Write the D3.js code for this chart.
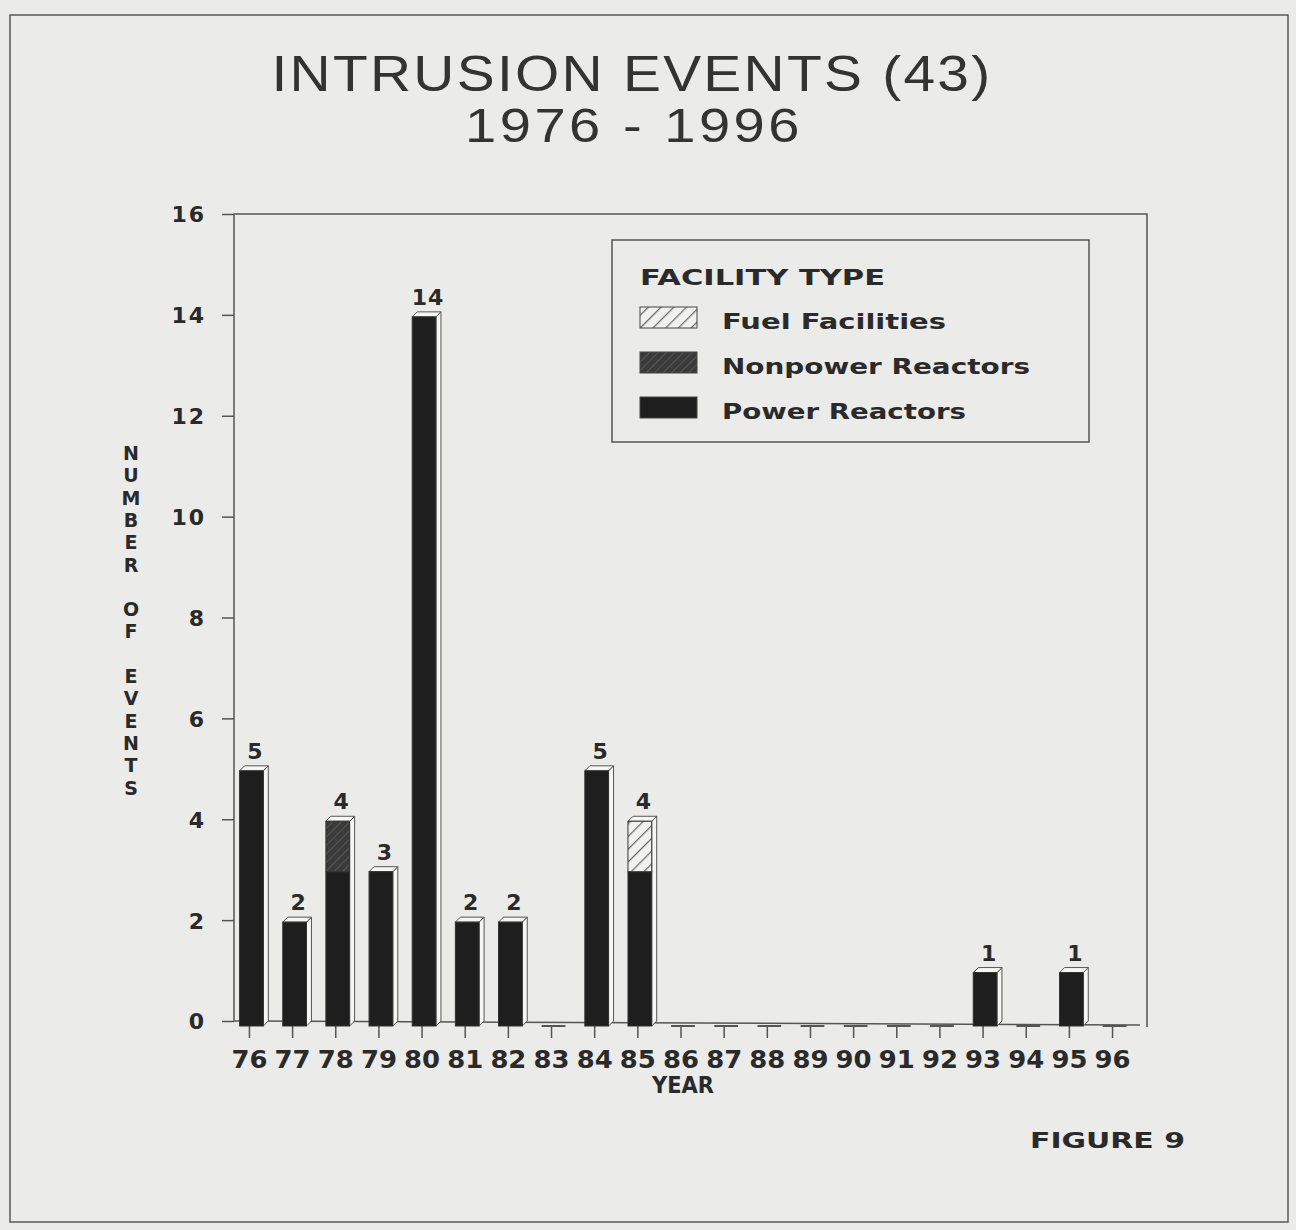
<!DOCTYPE html>
<html lang="en">
<head>
    <meta charset="utf-8">
    <title>Intrusion Events 1976 - 1996</title>
    <script src="https://cdn.jsdelivr.net/npm/d3@7"></script>
    <style>
        body { margin: 0; background: #ebebe9; }
        svg { display: block; }
        .bold { font-family: "DejaVu Sans", sans-serif; font-weight: bold; fill: #2a2a2a; }
    </style>
</head>
<body>
<script>
    // chart values
    var years = ["76", "77", "78", "79", "80", "81", "82", "83", "84", "85", "86",
                 "87", "88", "89", "90", "91", "92", "93", "94", "95", "96"];
    var power    = [5, 2, 3, 3, 14, 2, 2, 0, 5, 3, 0, 0, 0, 0, 0, 0, 0, 1, 0, 1, 0];
    var nonpower = [0, 0, 1, 0, 0, 0, 0, 0, 0, 0, 0, 0, 0, 0, 0, 0, 0, 0, 0, 0, 0];
    var fuel     = [0, 0, 0, 0, 0, 0, 0, 0, 0, 1, 0, 0, 0, 0, 0, 0, 0, 0, 0, 0, 0];
    var yTicks = [0, 2, 4, 6, 8, 10, 12, 14, 16];
    var seriesNames = ["Fuel Facilities", "Nonpower Reactors", "Power Reactors"];

    var width = 1296, height = 1230;
    var depth = 5;

    var svg = d3.select("body").append("svg")
        .attr("width", width)
        .attr("height", height);

    // hatch patterns
    var defs = svg.append("defs");
    var fuelPat = defs.append("pattern")
        .attr("id", "fuel")
        .attr("patternUnits", "userSpaceOnUse")
        .attr("width", 9).attr("height", 9)
        .attr("patternTransform", "rotate(45)");
    fuelPat.append("rect").attr("width", 9).attr("height", 9).attr("fill", "#f1f1ef");
    fuelPat.append("line").attr("x1", 0).attr("y1", 0).attr("x2", 0).attr("y2", 9)
        .attr("stroke", "#6a6a6a").attr("stroke-width", 2.5);

    var npPat = defs.append("pattern")
        .attr("id", "nonpower")
        .attr("patternUnits", "userSpaceOnUse")
        .attr("width", 6).attr("height", 6)
        .attr("patternTransform", "rotate(45)");
    npPat.append("rect").attr("width", 6).attr("height", 6).attr("fill", "#3a3a3a");
    npPat.append("line").attr("x1", 0).attr("y1", 0).attr("x2", 0).attr("y2", 6)
        .attr("stroke", "#575757").attr("stroke-width", 2);

    var fills = { "Power Reactors": "#1e1e1e", "Nonpower Reactors": "url(#nonpower)", "Fuel Facilities": "url(#fuel)" };

    // page border
    svg.append("rect")
        .attr("x", 10).attr("y", 15)
        .attr("width", 1278).attr("height", 1207)
        .attr("fill", "none")
        .attr("stroke", "#5a5a5a")
        .attr("stroke-width", 1.5);

    // title
    svg.append("text")
        .attr("x", 632).attr("y", 91)
        .attr("text-anchor", "middle")
        .attr("font-family", "Liberation Sans, Arial, sans-serif")
        .attr("font-size", 50)
        .attr("letter-spacing", 2)
        .attr("fill", "#333")
        .attr("textLength", 721)
        .attr("lengthAdjust", "spacingAndGlyphs")
        .text("INTRUSION EVENTS (43)");
    svg.append("text")
        .attr("x", 634).attr("y", 142)
        .attr("text-anchor", "middle")
        .attr("font-family", "Liberation Sans, Arial, sans-serif")
        .attr("font-size", 48)
        .attr("letter-spacing", 3)
        .attr("fill", "#333")
        .attr("textLength", 338)
        .attr("lengthAdjust", "spacingAndGlyphs")
        .text("1976 - 1996");

    // scales
    var x = d3.scaleBand()
        .domain(years)
        .range([218, 1148])
        .paddingInner(0.45)
        .paddingOuter(0.5);

    var y = d3.scaleLinear()
        .domain([0, 16])
        .range([1021, 214]);

    var bw = x.bandwidth();

    // plot frame (back plane)
    svg.append("path")
        .attr("d", "M" + 234 + "," + y(0) + "V" + y(16) + "H" + 1147 + "V" + (y(0) + 6))
        .attr("fill", "none")
        .attr("stroke", "#555")
        .attr("stroke-width", 1.5);
    svg.append("line")
        .attr("x1", 234).attr("y1", y(0))
        .attr("x2", 1140).attr("y2", y(0) + 4)
        .attr("stroke", "#555")
        .attr("stroke-width", 1.5);

    // y axis
    var yAxis = d3.axisLeft(y)
        .tickValues(yTicks)
        .tickSize(12)
        .tickPadding(16);
    var gy = svg.append("g")
        .attr("transform", "translate(234,0)")
        .call(yAxis);
    gy.select(".domain").remove();
    gy.selectAll(".tick line").attr("stroke", "#555").attr("stroke-width", 1.5);
    gy.selectAll(".tick text")
        .attr("class", "bold")
        .attr("font-size", 22)
        .attr("letter-spacing", 2)
        .attr("dy", "0.36em");

    // y label, stacked letters
    "NUMBER OF EVENTS".split("").forEach(function(c, i) {
        if (c === " ") return;
        svg.append("text")
            .attr("class", "bold")
            .attr("font-size", 19)
            .attr("text-anchor", "middle")
            .attr("x", 131)
            .attr("y", 460 + i * 22.3)
            .text(c);
    });

    // x axis ticks and labels
    var xAxis = d3.axisBottom(x)
        .tickSize(12)
        .tickPadding(13);
    var gx = svg.append("g")
        .attr("transform", "translate(-2," + (y(0) + depth) + ")")
        .call(xAxis);
    gx.select(".domain").remove();
    gx.selectAll(".tick line").attr("stroke", "#555").attr("stroke-width", 1.5);
    gx.selectAll(".tick text")
        .attr("class", "bold")
        .attr("font-size", 24)
        .attr("textLength", 36)
        .attr("lengthAdjust", "spacingAndGlyphs");

    svg.append("text")
        .attr("class", "bold")
        .attr("x", 683).attr("y", 1093)
        .attr("text-anchor", "middle")
        .attr("font-size", 23)
        .attr("textLength", 62)
        .attr("lengthAdjust", "spacingAndGlyphs")
        .text("YEAR");

    // stacked data
    var table = years.map(function(yr, i) {
        return { year: yr, "Power Reactors": power[i], "Nonpower Reactors": nonpower[i], "Fuel Facilities": fuel[i] };
    });
    var stack = d3.stack().keys(["Power Reactors", "Nonpower Reactors", "Fuel Facilities"]);
    var layers = stack(table);

    var bars = svg.append("g");

    // 3d faces, labels, flat tops for empty years
    table.forEach(function(d) {
        var tot = d["Power Reactors"] + d["Nonpower Reactors"] + d["Fuel Facilities"];
        var bx = x(d.year);
        var by = y(0) + depth;
        if (tot === 0) {
            bars.append("line")
                .attr("x1", bx).attr("x2", bx + bw)
                .attr("y1", by).attr("y2", by)
                .attr("stroke", "#555")
                .attr("stroke-width", 2);
            return;
        }
        var top = y(tot) + 2;
        // side face
        bars.append("path")
            .attr("d", "M" + (bx + bw) + "," + top + "L" + (bx + bw + depth) + "," + (top - depth) +
                "L" + (bx + bw + depth) + "," + (by - depth) + "L" + (bx + bw) + "," + by + "Z")
            .attr("fill", "#f6f6f4")
            .attr("stroke", "#555")
            .attr("stroke-width", 1);
        // top face
        bars.append("path")
            .attr("d", "M" + bx + "," + top + "L" + (bx + depth) + "," + (top - depth) +
                "L" + (bx + bw + depth) + "," + (top - depth) + "L" + (bx + bw) + "," + top + "Z")
            .attr("fill", "#f6f6f4")
            .attr("stroke", "#555")
            .attr("stroke-width", 1);
        // value label
        svg.append("text")
            .attr("class", "bold")
            .attr("x", bx + bw / 2 + 4)
            .attr("y", top - 12)
            .attr("text-anchor", "middle")
            .attr("font-size", 22)
            .attr("letter-spacing", 1)
            .text(tot);
    });

    // front faces per layer
    layers.forEach(function(layer) {
        bars.selectAll(null)
            .data(layer.filter(function(d) { return d[1] > d[0]; }))
            .enter()
            .append("rect")
            .attr("x", function(d) { return x(d.data.year); })
            .attr("y", function(d) { return y(d[1]) + 2; })
            .attr("width", bw)
            .attr("height", function(d) {
                var bottom = d[0] === 0 ? y(0) + depth : y(d[0]) + 2;
                return bottom - (y(d[1]) + 2);
            })
            .attr("fill", fills[layer.key])
            .attr("stroke", "#333")
            .attr("stroke-width", 1);
    });

    // legend
    var legend = svg.append("g");
    legend.append("rect")
        .attr("x", 612).attr("y", 240)
        .attr("width", 477).attr("height", 202)
        .attr("fill", "none")
        .attr("stroke", "#555")
        .attr("stroke-width", 1.5);
    legend.append("text")
        .attr("class", "bold")
        .attr("x", 640).attr("y", 285)
        .attr("font-size", 21)
        .attr("textLength", 245)
        .attr("lengthAdjust", "spacingAndGlyphs")
        .text("FACILITY TYPE");

    var legendLen = { "Fuel Facilities": 224, "Nonpower Reactors": 308, "Power Reactors": 244 };
    seriesNames.forEach(function(name, i) {
        var ly = 307 + i * 45;
        legend.append("rect")
            .attr("x", 640).attr("y", ly)
            .attr("width", 57).attr("height", 21)
            .attr("fill", fills[name])
            .attr("stroke", "#444")
            .attr("stroke-width", 1);
        legend.append("text")
            .attr("class", "bold")
            .attr("x", 722).attr("y", ly + 22)
            .attr("font-size", 21)
            .attr("textLength", legendLen[name])
            .attr("lengthAdjust", "spacingAndGlyphs")
            .text(name);
    });

    // figure number
    svg.append("text")
        .attr("class", "bold")
        .attr("x", 1030).attr("y", 1148)
        .attr("font-size", 21)
        .attr("textLength", 155)
        .attr("lengthAdjust", "spacingAndGlyphs")
        .text("FIGURE 9");
</script>
</body>
</html>
